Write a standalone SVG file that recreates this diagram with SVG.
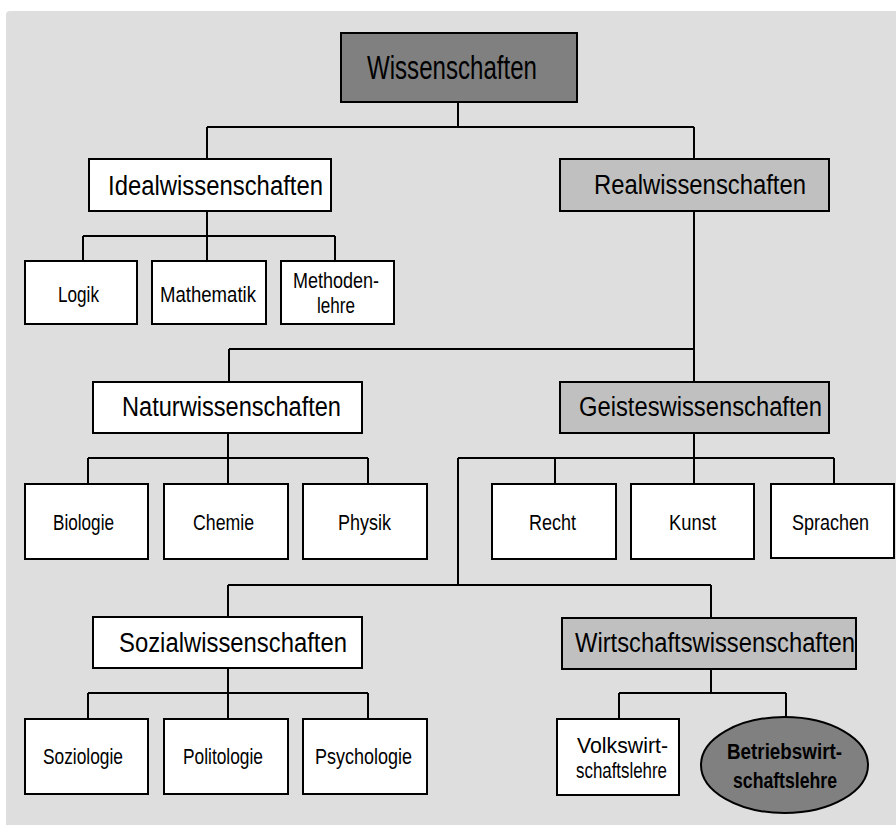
<svg xmlns="http://www.w3.org/2000/svg" width="896" height="825" viewBox="0 0 896 825">
<style>
.box{stroke:#000;stroke-width:2}
.w{fill:#fff}
.g1{fill:#c0c0c0}
.g2{fill:#808080}
text{font-family:"Liberation Sans Narrow","Liberation Sans",Arial,sans-serif;fill:#000;text-anchor:middle}
.big{font-size:33px}
.mid{font-size:27px}
.sm{font-size:22px}
.b{font-weight:bold}
#connectors path{fill:none;stroke:#000;stroke-width:2}
</style>
<rect x="0" y="0" width="896" height="825" fill="#fff"/>
<path d="M10,11 H896 V825 H6 V15 Q6,11 10,11 Z" fill="#dedede"/>
<g id="connectors">
<path d="M458,102 V127 M207,127 H694 M207,127 V159 M694,127 V159"/>
<path d="M207,211 V236 M83,236 H335 M83,236 V261 M207,236 V261 M335,236 V261"/>
<path d="M694,211 V349 M229,349 H694 M229,349 V382 M694,349 V382"/>
<path d="M228,433 V458 M88,458 H368 M88,458 V484 M228,458 V484 M368,458 V484"/>
<path d="M694,433 V458 M458,458 H834 M555,458 V484 M694,458 V484 M834,458 V484 M458,458 V585"/>
<path d="M228,585 H711 M228,585 V617 M711,585 V618"/>
<path d="M228,668 V693 M88,693 H368 M88,693 V719 M228,693 V719 M368,693 V719"/>
<path d="M711,669 V693 M619,693 H786 M619,693 V719 M786,693 V717"/>
</g>
<g id="wissenschaften"><rect class="box g2" x="341" y="33" width="236" height="69"/><text class="big" x="452" y="79" textLength="170" lengthAdjust="spacingAndGlyphs">Wissenschaften</text></g>
<g id="idealwissenschaften"><rect class="box w" x="89" y="159" width="242" height="52"/><text class="mid" x="215.5" y="195" textLength="215" lengthAdjust="spacingAndGlyphs">Idealwissenschaften</text></g>
<g id="realwissenschaften"><rect class="box g1" x="560" y="159" width="269" height="52"/><text class="mid" x="700" y="194" textLength="212" lengthAdjust="spacingAndGlyphs">Realwissenschaften</text></g>
<g id="logik"><rect class="box w" x="25" y="261" width="112" height="63"/><text class="sm" x="78.5" y="302" textLength="41" lengthAdjust="spacingAndGlyphs">Logik</text></g>
<g id="mathematik"><rect class="box w" x="152" y="261" width="114" height="63"/><text class="sm" x="208" y="302" textLength="96" lengthAdjust="spacingAndGlyphs">Mathematik</text></g>
<g id="methodenlehre"><rect class="box w" x="281" y="261" width="113" height="63"/><text class="sm" x="336" y="288" textLength="86" lengthAdjust="spacingAndGlyphs">Methoden-</text><text class="sm" x="336" y="313" textLength="38" lengthAdjust="spacingAndGlyphs">lehre</text></g>
<g id="naturwissenschaften"><rect class="box w" x="93" y="382" width="269" height="51"/><text class="mid" x="231.5" y="416" textLength="219" lengthAdjust="spacingAndGlyphs">Naturwissenschaften</text></g>
<g id="geisteswissenschaften"><rect class="box g1" x="560" y="382" width="269" height="51"/><text class="mid" x="700.5" y="416" textLength="243" lengthAdjust="spacingAndGlyphs">Geisteswissenschaften</text></g>
<g id="biologie"><rect class="box w" x="25" y="484" width="123" height="75"/><text class="sm" x="83.5" y="530" textLength="61" lengthAdjust="spacingAndGlyphs">Biologie</text></g>
<g id="chemie"><rect class="box w" x="164" y="484" width="124" height="75"/><text class="sm" x="223.5" y="530" textLength="61" lengthAdjust="spacingAndGlyphs">Chemie</text></g>
<g id="physik"><rect class="box w" x="303" y="484" width="124" height="75"/><text class="sm" x="364.5" y="530" textLength="53" lengthAdjust="spacingAndGlyphs">Physik</text></g>
<g id="recht"><rect class="box w" x="492" y="484" width="124" height="75"/><text class="sm" x="552.5" y="530" textLength="47" lengthAdjust="spacingAndGlyphs">Recht</text></g>
<g id="kunst"><rect class="box w" x="631" y="484" width="123" height="75"/><text class="sm" x="692.5" y="530" textLength="47" lengthAdjust="spacingAndGlyphs">Kunst</text></g>
<g id="sprachen"><rect class="box w" x="771" y="484" width="123" height="74"/><text class="sm" x="830.5" y="530" textLength="77" lengthAdjust="spacingAndGlyphs">Sprachen</text></g>
<g id="sozialwissenschaften"><rect class="box w" x="93" y="617" width="269" height="51"/><text class="mid" x="233" y="652" textLength="228" lengthAdjust="spacingAndGlyphs">Sozialwissenschaften</text></g>
<g id="wirtschaftswissenschaften"><rect class="box g1" x="562" y="618" width="294" height="51"/><text class="mid" x="715" y="652" textLength="280" lengthAdjust="spacingAndGlyphs">Wirtschaftswissenschaften</text></g>
<g id="soziologie"><rect class="box w" x="25" y="719" width="123" height="75"/><text class="sm" x="83" y="764" textLength="80" lengthAdjust="spacingAndGlyphs">Soziologie</text></g>
<g id="politologie"><rect class="box w" x="164" y="719" width="124" height="75"/><text class="sm" x="223" y="764" textLength="80" lengthAdjust="spacingAndGlyphs">Politologie</text></g>
<g id="psychologie"><rect class="box w" x="303" y="719" width="124" height="75"/><text class="sm" x="363.5" y="764" textLength="97" lengthAdjust="spacingAndGlyphs">Psychologie</text></g>
<g id="volkswirtschaftslehre"><rect class="box w" x="557" y="719" width="122" height="76"/><text class="sm" x="622.5" y="753" textLength="91" lengthAdjust="spacingAndGlyphs">Volkswirt-</text><text class="sm" x="621.5" y="778" textLength="91" lengthAdjust="spacingAndGlyphs">schaftslehre</text></g>
<g id="betriebswirtschaftslehre"><ellipse class="box g2" cx="784.5" cy="765" rx="83.5" ry="48"/><text class="sm b" x="784.5" y="759" textLength="115" lengthAdjust="spacingAndGlyphs">Betriebswirt-</text><text class="sm b" x="785" y="788" textLength="104" lengthAdjust="spacingAndGlyphs">schaftslehre</text></g>
</svg>
